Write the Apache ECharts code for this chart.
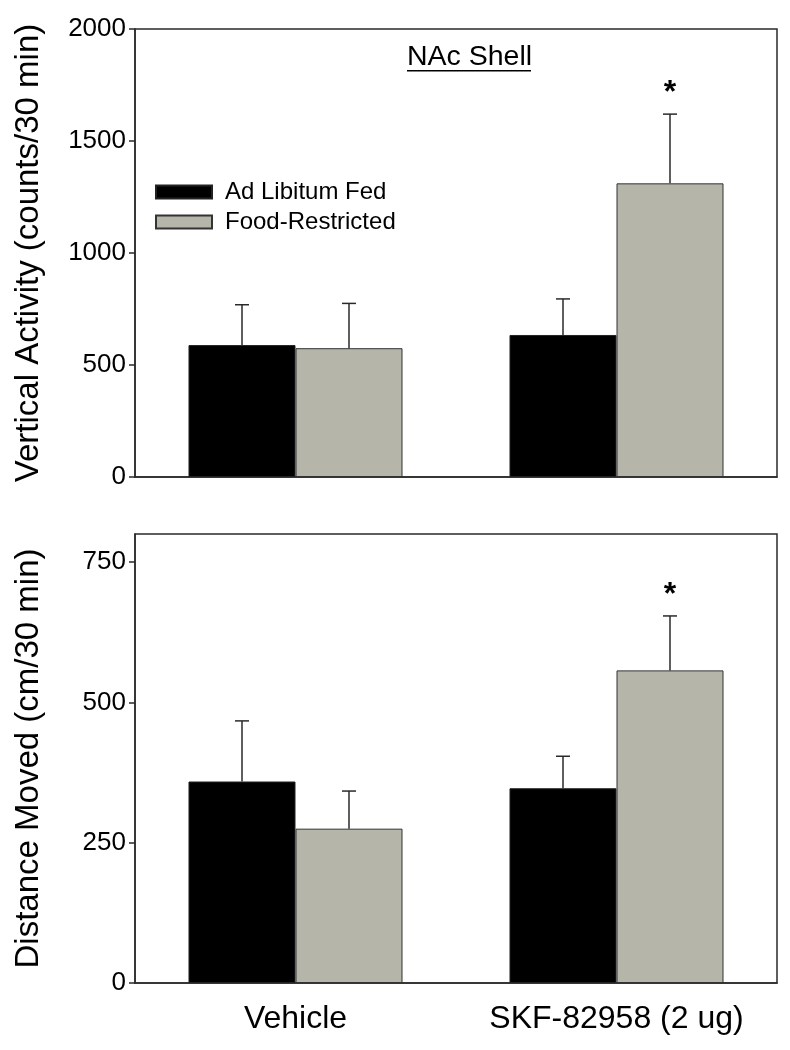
<!DOCTYPE html>
<html>
<head>
<meta charset="utf-8">
<script src="https://cdn.jsdelivr.net/npm/echarts@6/dist/echarts.min.js"></script>
<style>
html,body{margin:0;padding:0;background:#fff;}
#c{width:790px;height:1050px;}
</style>
</head>
<body>
<div id="c"></div>
<script>
// ---- data ----
const categories = ['Vehicle', 'SKF-82958 (2 ug)'];
const seriesNames = ['Ad Libitum Fed', 'Food-Restricted'];
// Top panel: Vertical Activity (counts/30 min)
const vertAdLib = [589, 634];
const vertAdLibErr = [180, 161];
const vertFoodR = [575, 1311];
const vertFoodRErr = [200, 309];
const vertSig = [[false, false], [false, true]]; // [adlib, foodR] per category -> star
// Bottom panel: Distance Moved (cm/30 min)
const distAdLib = [359, 347];
const distAdLibErr = [108, 57];
const distFoodR = [275, 557];
const distFoodRErr = [67, 97];
const distSig = [[false, false], [false, true]];
// tick labels
const vertTicks = [0, 500, 1000, 1500, 2000];
const distTicks = [0, 250, 500, 750];

const FONT = 'Liberation Sans, Arial, Helvetica, sans-serif';
const BLACK = '#000000';
const GRAY = '#b5b5aa';
const LINE = '#2a2a2a';

function errRender(offsetSign, sigArr, sIdx) {
  return function (params, api) {
    const x = api.value(0), v = api.value(1), e = api.value(2);
    const base = api.coord([x, v]);
    const top = api.coord([x, v + e]);
    const band = api.size([1, 0])[0];
    const cx = base[0] + offsetSign * band / 6;
    const children = [
      {type: 'line', shape: {x1: cx, y1: base[1], x2: cx, y2: top[1]}, style: {stroke: LINE, lineWidth: 1.5}},
      {type: 'line', shape: {x1: cx - 7, y1: top[1], x2: cx + 7, y2: top[1]}, style: {stroke: LINE, lineWidth: 1.5}}
    ];
    if (sigArr[x][sIdx]) {
      children.push({type: 'text', style: {text: '*', x: cx, y: top[1] - 21, align: 'center', verticalAlign: 'middle', font: 'bold 32px ' + FONT, fill: '#000'}});
    }
    return {type: 'group', children: children};
  };
}

function errData(vals, errs) {
  return vals.map((v, i) => [i, v, errs[i]]);
}

const yAxisCommon = {
  type: 'value',
  nameLocation: 'middle',
  nameRotate: 90,
  nameTextStyle: {fontFamily: FONT, fontSize: 33, color: '#000'},
  axisLine: {show: true, lineStyle: {color: LINE, width: 1.5}},
  axisTick: {show: true, inside: false, length: 6, lineStyle: {color: LINE, width: 1.5}},
  axisLabel: {fontFamily: FONT, fontSize: 26, color: '#000', margin: 9, formatter: function (v) { return String(v); }},
  splitLine: {show: false}
};

const xAxisCommon = {
  type: 'category',
  data: categories,
  axisLine: {show: true, lineStyle: {color: LINE, width: 1.5}},
  axisTick: {show: false},
  splitLine: {show: false}
};

const barCommon = {
  type: 'bar',
  barGap: '0%',
  barCategoryGap: '33.33%'
};

const option = {
  animation: false,
  backgroundColor: '#ffffff',
  textStyle: {fontFamily: FONT},
  legend: {
    orient: 'vertical',
    left: 150,
    top: 175,
    itemWidth: 56,
    itemHeight: 13,
    itemGap: 6,
    icon: 'rect',
    data: seriesNames,
    textStyle: {fontFamily: FONT, fontSize: 24, color: '#000', lineHeight: 24, padding: [0, 0, 0, 8]}
  },
  graphic: [
    {type: 'text', left: 407, top: 43, style: {text: 'NAc Shell', font: '28.5px ' + FONT, fill: '#000'}},
    {type: 'rect', left: 407, top: 70, shape: {width: 124, height: 1.5}, style: {fill: '#000'}}
  ],
  grid: [
    {left: 135, right: 13, top: 29, height: 448, show: true, borderColor: LINE, borderWidth: 1.5, backgroundColor: 'transparent'},
    {left: 135, right: 13, top: 534, height: 449, show: true, borderColor: LINE, borderWidth: 1.5, backgroundColor: 'transparent'}
  ],
  xAxis: [
    Object.assign({}, xAxisCommon, {gridIndex: 0, axisLabel: {show: false}}),
    Object.assign({}, xAxisCommon, {gridIndex: 1, axisLabel: {show: true, interval: 0, hideOverlap: false, fontFamily: FONT, fontSize: 32, color: '#000', margin: 20}})
  ],
  yAxis: [
    Object.assign({}, yAxisCommon, {
      gridIndex: 0, min: 0, max: 2000, interval: 500,
      name: 'Vertical Activity (counts/30 min)', nameGap: 90,
      axisLabel: Object.assign({}, yAxisCommon.axisLabel, {customValues: vertTicks}),
      axisTick: Object.assign({}, yAxisCommon.axisTick, {customValues: vertTicks})
    }),
    Object.assign({}, yAxisCommon, {
      gridIndex: 1, min: 0, max: 800, interval: 250,
      name: 'Distance Moved (cm/30 min)', nameGap: 90,
      axisLabel: Object.assign({}, yAxisCommon.axisLabel, {customValues: distTicks}),
      axisTick: Object.assign({}, yAxisCommon.axisTick, {customValues: distTicks})
    })
  ],
  series: [
    Object.assign({}, barCommon, {name: seriesNames[0], xAxisIndex: 0, yAxisIndex: 0, data: vertAdLib,
      itemStyle: {color: BLACK, borderColor: '#222', borderWidth: 1}}),
    Object.assign({}, barCommon, {name: seriesNames[1], xAxisIndex: 0, yAxisIndex: 0, data: vertFoodR,
      itemStyle: {color: GRAY, borderColor: '#333', borderWidth: 1}}),
    Object.assign({}, barCommon, {name: seriesNames[0], xAxisIndex: 1, yAxisIndex: 1, data: distAdLib,
      itemStyle: {color: BLACK, borderColor: '#222', borderWidth: 1}}),
    Object.assign({}, barCommon, {name: seriesNames[1], xAxisIndex: 1, yAxisIndex: 1, data: distFoodR,
      itemStyle: {color: GRAY, borderColor: '#333', borderWidth: 1}}),
    {type: 'custom', xAxisIndex: 0, yAxisIndex: 0, renderItem: errRender(-1, vertSig, 0), data: errData(vertAdLib, vertAdLibErr), z: 5, silent: true},
    {type: 'custom', xAxisIndex: 0, yAxisIndex: 0, renderItem: errRender(1, vertSig, 1), data: errData(vertFoodR, vertFoodRErr), z: 5, silent: true},
    {type: 'custom', xAxisIndex: 1, yAxisIndex: 1, renderItem: errRender(-1, distSig, 0), data: errData(distAdLib, distAdLibErr), z: 5, silent: true},
    {type: 'custom', xAxisIndex: 1, yAxisIndex: 1, renderItem: errRender(1, distSig, 1), data: errData(distFoodR, distFoodRErr), z: 5, silent: true}
  ]
};

const chart = echarts.init(document.getElementById('c'), null, {renderer: 'canvas'});
chart.setOption(option);
</script>
</body>
</html>
